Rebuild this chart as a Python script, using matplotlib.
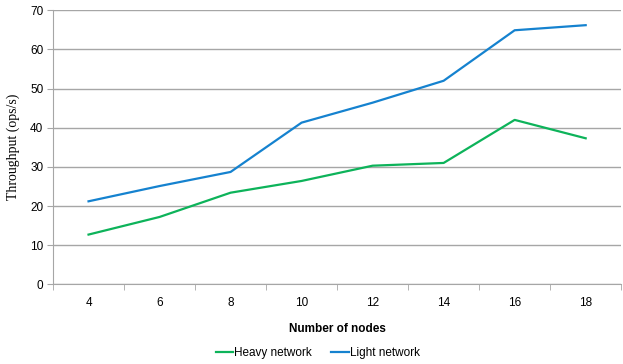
import numpy as np
import matplotlib.pyplot as plt
from matplotlib.ticker import FixedLocator

nodes = ['4', '6', '8', '10', '12', '14', '16', '18']
heavy = [12.7, 17.2, 23.4, 26.4, 30.3, 31.0, 42.0, 37.3]
light = [21.2, 25.1, 28.7, 41.3, 46.4, 52.0, 64.9, 66.2]

plt.rcParams['font.family'] = 'Liberation Sans'
gray = '#a6a6a6'

fig = plt.figure(figsize=(6.23, 3.64), dpi=100)
ax = fig.add_axes([0.0851, 0.219, 0.912, 0.7527])

x = np.arange(len(nodes))
ax.plot(x, heavy, color='#0db35a', lw=1.6, label='Heavy network')
ax.plot(x, light, color='#1582cf', lw=1.6, label='Light network')

ax.set_xlim(-0.5, len(nodes) - 0.5)
ax.set_ylim(0, 70)
ax.set_yticks(range(0, 71, 10))
ax.yaxis.grid(True, color=gray, lw=1)
ax.set_axisbelow(True)

# labels sit in the middle of each category, ticks on the boundaries
ax.set_xticks(x)
ax.set_xticklabels(nodes)
ax.xaxis.set_minor_locator(FixedLocator(np.arange(-0.5, len(nodes), 1.0)))
ax.tick_params(axis='x', which='major', length=0, pad=9, labelsize=8.5)
ax.tick_params(axis='x', which='minor', length=4, color=gray)
ax.tick_params(axis='y', length=4, color=gray, labelsize=8.5, pad=3)

for side in ['top', 'right']:
    ax.spines[side].set_visible(False)
for side in ['left', 'bottom']:
    ax.spines[side].set_color(gray)

ax.set_xlabel('Number of nodes', fontsize=8.5, fontweight='bold', labelpad=10)
ax.set_ylabel('Throughput (ops/s)', fontsize=10, family='Liberation Serif', labelpad=7)

fig.legend(loc='center', bbox_to_anchor=(0.51, 0.03), ncol=2, frameon=False,
           fontsize=8.5, handlelength=1.5, handletextpad=0.1, columnspacing=1.6)

fig.savefig('out.png', dpi=100)
